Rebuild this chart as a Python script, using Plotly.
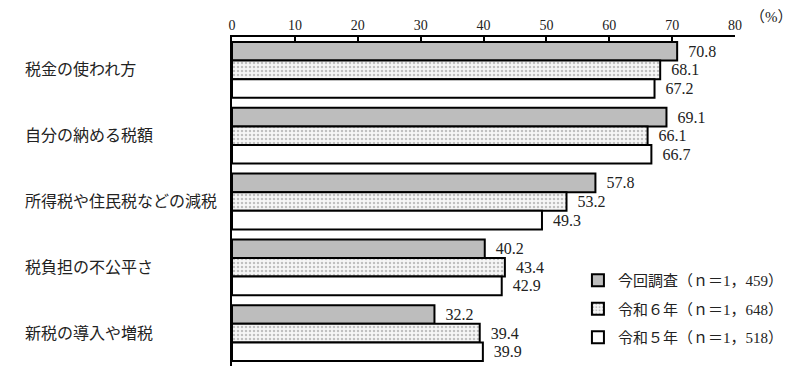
import plotly.graph_objects as go

categories = ["税金の使われ方", "自分の納める税額", "所得税や住民税などの減税", "税負担の不公平さ", "新税の導入や増税"]
series_names = ["今回調査（ｎ＝1，459）", "令和６年（ｎ＝1，648）", "令和５年（ｎ＝1，518）"]
v_now = [70.8, 69.1, 57.8, 40.2, 32.2]
v_r6 = [68.1, 66.1, 53.2, 43.4, 39.4]
v_r5 = [67.2, 66.7, 49.3, 42.9, 39.9]
x_ticks = [0, 10, 20, 30, 40, 50, 60, 70, 80]

FONT = "Liberation Serif, Noto Sans CJK JP"
TXT = "#222222"

styles = [
    dict(marker=dict(color="#bdbdbd", line=dict(color="black", width=2))),
    dict(marker=dict(color="white", line=dict(color="black", width=2),
                     pattern=dict(shape=".", fgcolor="#8a8a8a", bgcolor="#f6f6f6", size=4, solidity=0.3))),
    dict(marker=dict(color="white", line=dict(color="black", width=2))),
]

fig = go.Figure()
for i, (name, vals) in enumerate(zip(series_names, [v_now, v_r6, v_r5])):
    fig.add_trace(go.Bar(
        y=categories, x=vals, name=name, orientation="h",
        text=[f"{v:.1f}" for v in vals], texttemplate="\u2002%{text}", textposition="outside",
        textfont=dict(family=FONT, size=16, color=TXT),
        cliponaxis=False, legendgroup=f"g{i}",
        **styles[i],
    ))

for c in categories:
    fig.add_annotation(x=(22 - 232) / 506, xref="paper", y=c, yref="y",
                       text=c, showarrow=False, xanchor="left", yanchor="middle",
                       font=dict(family=FONT, size=16, color=TXT))

fig.add_annotation(x=80, xref="x", y=1, yref="paper", yshift=20, xshift=13,
                   text="（%）", showarrow=False, xanchor="left", yanchor="middle",
                   font=dict(family=FONT, size=15, color=TXT))

fig.update_layout(
    width=800, height=377,
    margin=dict(l=232, r=62, t=37, b=11),
    paper_bgcolor="white", plot_bgcolor="white",
    barmode="group", bargap=10 / 66, bargroupgap=0,
    font=dict(family=FONT, size=14, color=TXT),
    showlegend=True,
    legend=dict(x=(580 - 232) / 506, y=(366 - 264) / 329, xanchor="left", yanchor="top",
                bgcolor="rgba(0,0,0,0)", font=dict(family=FONT, size=15, color=TXT),
                traceorder="grouped", tracegroupgap=6, itemwidth=30),
    xaxis=dict(range=[0, 80], side="top", tickvals=x_ticks, ticks="inside", ticklen=4,
               tickwidth=1.5, tickcolor="black", showline=True, linecolor="black",
               linewidth=1.5, showgrid=False, zeroline=False,
               tickfont=dict(family=FONT, size=14, color=TXT)),
    yaxis=dict(autorange="reversed", showticklabels=False, ticks="", showline=True,
               linecolor="black", linewidth=2, showgrid=False, zeroline=False),
)

fig.write_html("out.html")
